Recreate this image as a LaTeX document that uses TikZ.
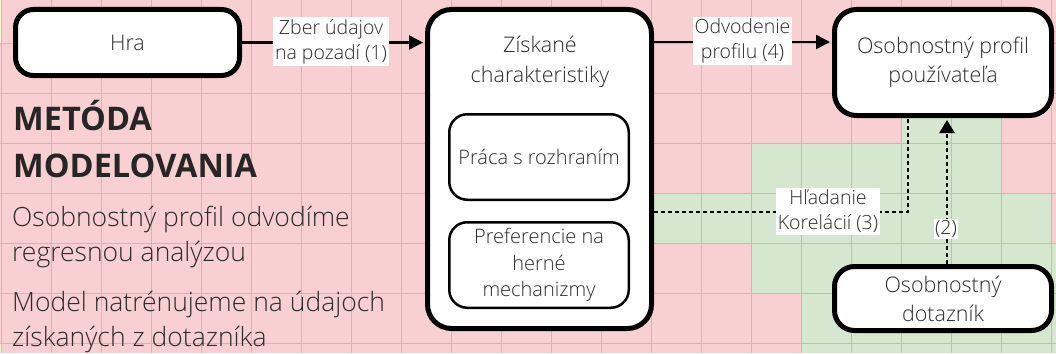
\documentclass[tikz,border=0pt]{standalone}
\usepackage{fontspec}
\setmainfont{Open Sans}[UprightFont={* Light}, BoldFont={* Bold}]
\usetikzlibrary{arrows.meta,shadows}
\definecolor{pinkc}{RGB}{249,208,209}
\definecolor{greenc}{RGB}{213,232,207}
\definecolor{gridc}{RGB}{218,184,140}
\definecolor{yelc}{RGB}{252,248,215}
\definecolor{txt}{RGB}{45,45,45}
\definecolor{ttl}{RGB}{38,38,38}
\tikzset{
  box/.style={draw=black, line width=5pt, fill=white, align=center,
    font=\fontsize{21.5}{29}\selectfont, text=txt, inner sep=0pt,
    drop shadow={shadow xshift=1.5pt, shadow yshift=-2pt, opacity=0.2}},
  inbox/.style={draw=black, line width=2.5pt, rounded corners=18pt, fill=white, align=center,
    font=\fontsize{20}{26.5}\selectfont, text=txt, inner sep=0pt,
    minimum width=179.5pt, minimum height=85.5pt},
  lbl/.style={fill=white, align=center, font=\fontsize{19.5}{25}\selectfont, text=txt, inner sep=2pt},
  conn/.style={line width=2.5pt, -{Triangle[length=14pt,width=14pt]}, shorten >=2pt},
  dotln/.style={line width=2.2pt, dash pattern=on 4pt off 3pt},
  para/.style={anchor=base west, inner sep=0pt, font=\fontsize{26.5}{35}\selectfont, text=txt},
  ttlstyle/.style={anchor=base west, inner sep=0pt, font=\fontsize{32.5}{47}\selectfont\bfseries, text=ttl},
  gridln/.style={gridc, line width=1pt}
}
\begin{document}
\begin{tikzpicture}[x=1pt,y=-1pt]
\useasboundingbox (0,0) rectangle (1056,353);
% background cells
\fill[pinkc] (0,0) rectangle (1056,353);
\fill[yelc] (0,0) rectangle (1.5,43.5);
\fill[yelc] (0,343.5) rectangle (1.5,353);
\fill[greenc] (901.5,93.5) rectangle (1001.5,353);
\fill[greenc] (751.5,143.5) rectangle (901.5,293.5);
\fill[greenc] (801.5,293.5) rectangle (901.5,353);
\fill[greenc] (651.5,193.5) rectangle (751.5,243.5);
\fill[greenc] (1001.5,193.5) rectangle (1051.5,353);
\fill[greenc] (1051.5,243.5) rectangle (1056,353);
\foreach \x in {1.5,51.5,...,1051.5} \draw[gridln] (\x,0) -- (\x,353);
\foreach \y in {43.5,93.5,...,343.5} \draw[gridln] (0,\y) -- (1056,\y);

% left text
\node[ttlstyle] (t1) at (13,130) {METÓDA};
\node[ttlstyle] (t2) at (13,177) {MODELOVANIA};
\node[para] (p1) at (12,226) {Osobnostný profil odvodíme};
\node[para] (p2) at (12,261) {regresnou analýzou};
\node[para] (p3) at (12,311) {Model natrénujeme na údajoch};
\node[para] (p4) at (12,346) {získaných z dotazníka};

% boxes
\node[box, rounded corners=18pt, minimum width=224pt, minimum height=66pt] (hra) at (127.5,42.5) {Hra};
\node[box, rounded corners=24pt, minimum width=224pt, minimum height=319pt] (big) at (539.5,169) {};
\node[align=center, inner sep=0pt, text=txt, font=\fontsize{21.5}{30}\selectfont] (bigt) at (540,62) {Získané\\charakteristiky};
\node[inbox] (ui) at (539,157) {Práca s rozhraním};
\node[inbox] (pref) at (539,265) {Preferencie na\\herné\\mechanizmy};
\node[box, rounded corners=22pt, minimum width=217pt, minimum height=106pt] (prof) at (943,62.5) {Osobnostný profil\\používateľa};
\node[box, rounded corners=20pt, minimum width=217pt, minimum height=64pt] (dotaz) at (943,298.5) {Osobnostný\\dotazník};

% connectors
\coordinate (y42) at (0,42);
\coordinate (cr) at (908,212);
\coordinate (c2) at (947,0);
\draw[conn] (hra.east) -- (hra.east -| big.west);
\draw[conn] (big.east |- y42) -- (prof.west |- y42);
\draw[dotln] (big.east |- cr) -- (cr) -- (cr |- prof.south);
\draw[dotln, -{Triangle[length=13pt,width=15pt]}, shorten >=2pt] (c2 |- dotaz.north) -- (c2 |- prof.south);

% labels
\node[lbl] (l1) at (331,41.5) {Zber údajov\\na pozadí (1)};
\node[lbl] (l4) at (742.5,41) {Odvodenie\\profilu (4)};
\node[lbl] (l3) at (828,211.5) {Hľadanie\\Korelácií (3)};
\node[lbl, inner sep=1.5pt] (l2) at (946,229) {(2)};
\end{tikzpicture}
\end{document}
